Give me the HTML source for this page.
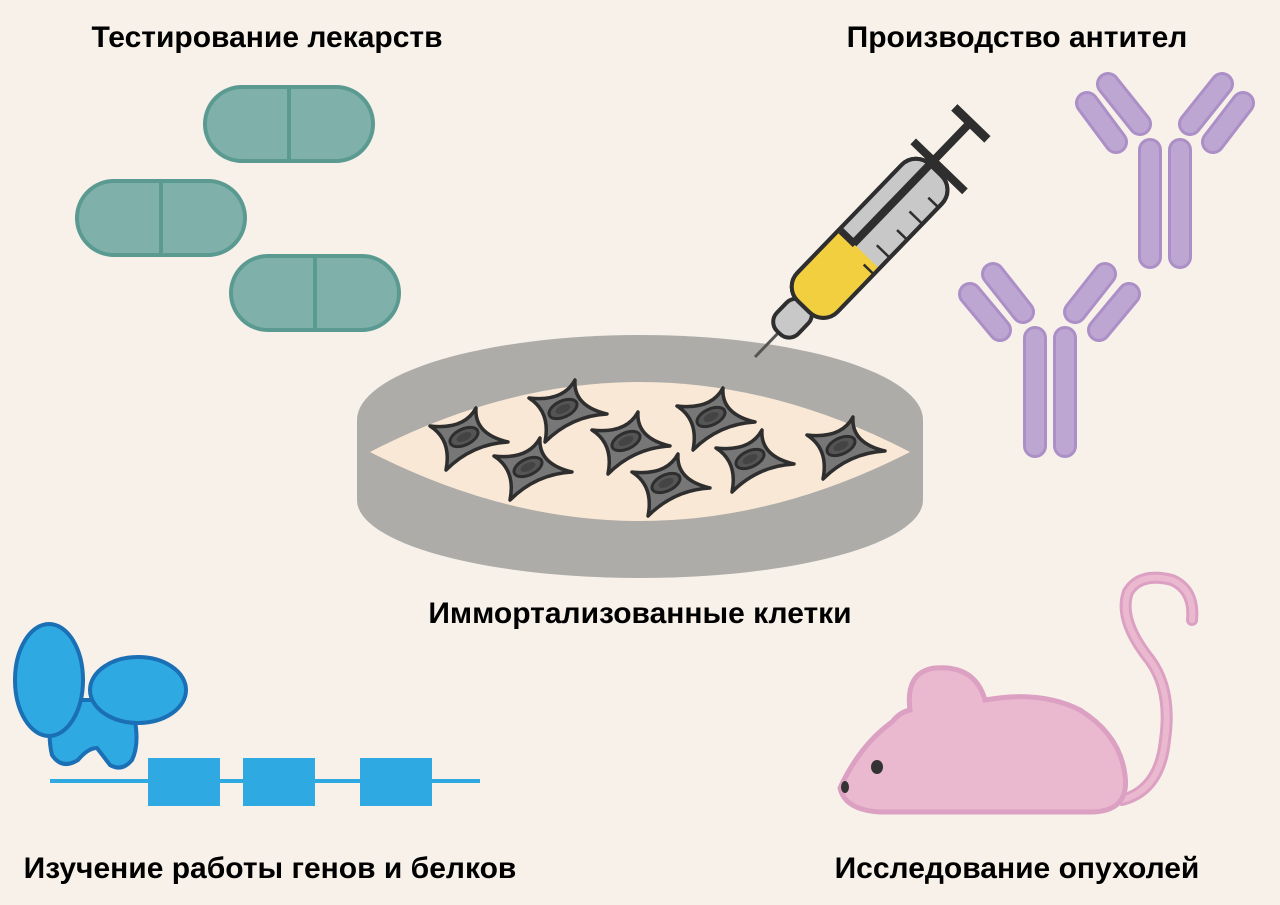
<!DOCTYPE html>
<html><head><meta charset="utf-8"><style>
html,body{margin:0;padding:0;background:#f7f1ea}
svg{display:block}
text{font-family:"Liberation Sans",Arial,sans-serif;font-weight:bold;font-size:30px;fill:#000;text-anchor:middle}
</style></head><body>
<svg width="1280" height="905" viewBox="0 0 1280 905" xmlns="http://www.w3.org/2000/svg">
<defs>
<g id="cell">
<path d="M-36,-12 Q-2,-8 10,-30 Q8,-4 42,4 Q6,6 -20,32 Q-14,2 -36,-12 Z" fill="#777" stroke="#2e2e2e" stroke-width="3.5" stroke-linejoin="round"/>
<ellipse cx="-2" cy="-1" rx="15" ry="8" transform="rotate(-25 -2 -1)" fill="#555" stroke="#2e2e2e" stroke-width="3"/>
<ellipse cx="-2" cy="-1" rx="8" ry="4" transform="rotate(-25 -2 -1)" fill="#444"/>
</g>
</defs>

<text x="267" y="47">Тестирование лекарств</text>
<text x="1017" y="47">Производство антител</text>
<text x="640" y="623">Иммортализованные клетки</text>
<text x="270" y="878">Изучение работы генов и белков</text>
<text x="1017" y="878">Исследование опухолей</text>

<g fill="#7fb1aa" stroke="#5b9a91" stroke-width="4">
<rect x="205" y="87" width="168" height="74" rx="37"/>
<line x1="289" y1="87" x2="289" y2="161"/>
<rect x="77" y="181" width="168" height="74" rx="37"/>
<line x1="161" y1="181" x2="161" y2="255"/>
<rect x="231" y="256" width="168" height="74" rx="37"/>
<line x1="315" y1="256" x2="315" y2="330"/>
</g>

<path d="M357,420 L357,500 A283,78 0 0 0 923,500 L923,420 Z" fill="#adaca8"/>
<ellipse cx="640" cy="420" rx="283" ry="85" fill="#adaca8"/>
<path d="M370,452 Q640,312 910,452 Q640,590 370,452 Z" fill="#f9e8d6"/>

<use href="#cell" transform="translate(466,438)"/>
<use href="#cell" transform="translate(565,410)"/>
<use href="#cell" transform="translate(530,468)"/>
<use href="#cell" transform="translate(628,442)"/>
<use href="#cell" transform="translate(713,418)"/>
<use href="#cell" transform="translate(668,484)"/>
<use href="#cell" transform="translate(752,460)"/>
<use href="#cell" transform="translate(843,447)"/>

<g transform="translate(755,357) rotate(-46)">
<line x1="0" y1="0" x2="40" y2="0" stroke="#555" stroke-width="3"/>
<rect x="34" y="-15" width="40" height="30" rx="13" fill="#c8c8c8" stroke="#2e2e2e" stroke-width="4"/>
<rect x="70" y="-28" width="190" height="56" rx="20" fill="#c8c8c8" stroke="#2e2e2e" stroke-width="4"/>
<path d="M90,-26 L150,-26 L150,26 L90,26 Q72,26 72,8 L72,-8 Q72,-26 90,-26 Z" fill="#f2cf3f"/>
<rect x="70" y="-28" width="190" height="56" rx="20" fill="none" stroke="#2e2e2e" stroke-width="4"/>
<line x1="150" y1="-8" x2="318" y2="-8" stroke="#2e2e2e" stroke-width="8"/>
<rect x="147" y="-26" width="7" height="20" fill="#2e2e2e"/>
<g stroke="#2e2e2e" stroke-width="2.5">
<line x1="142" y1="14" x2="142" y2="27"/><line x1="165" y1="10" x2="165" y2="27"/>
<line x1="190" y1="14" x2="190" y2="27"/><line x1="212" y1="10" x2="212" y2="27"/>
<line x1="235" y1="14" x2="235" y2="27"/>
</g>
<line x1="265" y1="-36" x2="265" y2="36" stroke="#2e2e2e" stroke-width="8"/>
<line x1="318" y1="-30" x2="318" y2="16" stroke="#2e2e2e" stroke-width="9"/>
</g>

<g stroke-linecap="round">
<g stroke="#ab8fc6" stroke-width="24">
<line x1="1150" y1="150" x2="1150" y2="257"/><line x1="1180" y1="150" x2="1180" y2="257"/>
<line x1="1087" y1="103" x2="1116" y2="142"/><line x1="1108" y1="84" x2="1140" y2="124"/>
<line x1="1222" y1="84" x2="1190" y2="124"/><line x1="1243" y1="103" x2="1213" y2="142"/>
<line x1="1035" y1="338" x2="1035" y2="446"/><line x1="1065" y1="338" x2="1065" y2="446"/>
<line x1="970" y1="294" x2="1000" y2="330"/><line x1="993" y1="274" x2="1023" y2="312"/>
<line x1="1105" y1="274" x2="1075" y2="312"/><line x1="1129" y1="294" x2="1099" y2="330"/>
</g>
<g stroke="#bda6d2" stroke-width="18">
<line x1="1150" y1="150" x2="1150" y2="257"/><line x1="1180" y1="150" x2="1180" y2="257"/>
<line x1="1087" y1="103" x2="1116" y2="142"/><line x1="1108" y1="84" x2="1140" y2="124"/>
<line x1="1222" y1="84" x2="1190" y2="124"/><line x1="1243" y1="103" x2="1213" y2="142"/>
<line x1="1035" y1="338" x2="1035" y2="446"/><line x1="1065" y1="338" x2="1065" y2="446"/>
<line x1="970" y1="294" x2="1000" y2="330"/><line x1="993" y1="274" x2="1023" y2="312"/>
<line x1="1105" y1="274" x2="1075" y2="312"/><line x1="1129" y1="294" x2="1099" y2="330"/>
</g>
</g>

<line x1="50" y1="781" x2="480" y2="781" stroke="#2fa9e1" stroke-width="4"/>
<rect x="148" y="758" width="72" height="48" fill="#2fa9e1"/>
<rect x="243" y="758" width="72" height="48" fill="#2fa9e1"/>
<rect x="360" y="758" width="72" height="48" fill="#2fa9e1"/>
<g fill="#2fa9e1" stroke="#1a6fb5" stroke-width="4">
<path d="M55,700 L130,700 Q142,740 132,760 Q122,772 110,765 L97,748 Q88,748 78,760 Q62,770 52,755 Q46,730 55,700 Z"/>
<ellipse cx="49" cy="680" rx="34" ry="56"/>
<ellipse cx="138" cy="690" rx="48" ry="33"/>
</g>

<path d="M1122,800 Q1160,790 1165,740 Q1172,690 1150,660 Q1118,620 1128,592 Q1140,572 1172,580 Q1195,590 1192,620" fill="none" stroke="#dba0c2" stroke-width="12" stroke-linecap="round"/>
<path d="M1122,800 Q1160,790 1165,740 Q1172,690 1150,660 Q1118,620 1128,592 Q1140,572 1172,580 Q1195,590 1192,620" fill="none" stroke="#eab9cf" stroke-width="6" stroke-linecap="round"/>
<path d="M840,788 Q860,745 892,722 Q900,712 910,710 Q905,672 935,668 Q975,665 985,700 Q1040,690 1080,710 Q1120,735 1125,775 Q1130,812 1090,812 L880,812 Q845,810 840,788 Z" fill="#eab9cf" stroke="#dba0c2" stroke-width="5"/>
<ellipse cx="877" cy="767" rx="6" ry="7" fill="#333"/>
<ellipse cx="845" cy="787" rx="4" ry="6" fill="#333"/>
</svg>
</body></html>
